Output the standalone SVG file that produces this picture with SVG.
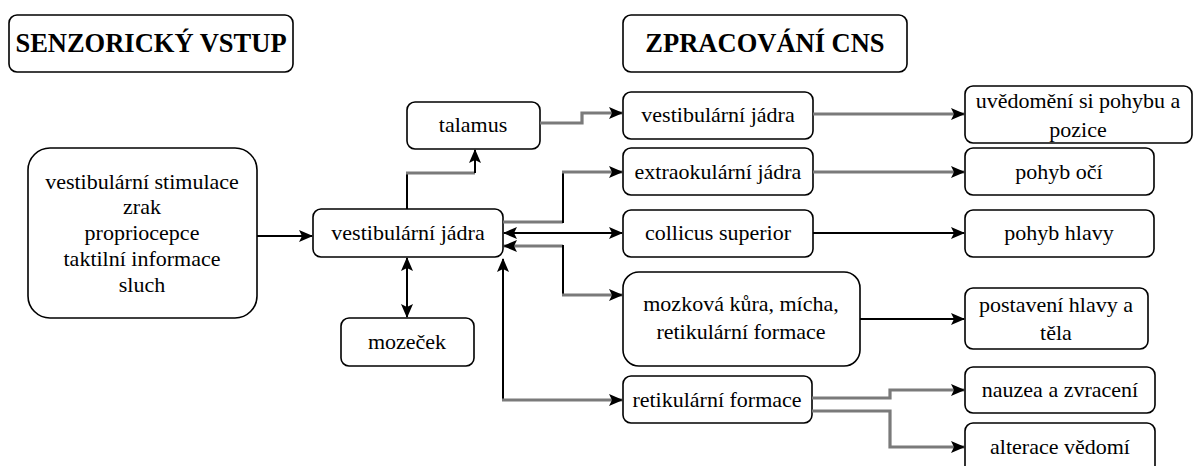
<svg xmlns="http://www.w3.org/2000/svg" width="1194" height="466" viewBox="0 0 1194 466">
<defs>
<style>
.box{fill:#fff;stroke:#000;stroke-width:1.6}
.t{font-family:"Liberation Serif","Times New Roman",serif;font-size:22px;fill:#000;text-anchor:middle}
.title{font-family:"Liberation Serif","Times New Roman",serif;font-size:26.5px;font-weight:bold;fill:#000;text-anchor:middle}
.k{fill:none;stroke:#000;stroke-width:2}
.g{fill:none;stroke:#7a7a7a;stroke-width:3.2}
</style>
<marker id="ah" markerUnits="userSpaceOnUse" markerWidth="14" markerHeight="12" refX="13" refY="6" orient="auto-start-reverse" viewBox="0 0 14 12">
<path d="M0,0 L14,6 L0,12 L3,6 z" fill="#000"/>
</marker>
</defs>
<g id="title-senzoricky">
<rect class="box" x="9" y="15" width="284" height="57" rx="8"/>
<text class="title" x="151" y="52">SENZORICKÝ VSTUP</text>
</g>
<g id="title-zpracovani">
<rect class="box" x="623" y="15" width="284" height="57" rx="8"/>
<text class="title" x="765" y="52">ZPRACOVÁNÍ CNS</text>
</g>
<g id="vstupy">
<rect class="box" x="28" y="148" width="229" height="170" rx="22"/>
<text class="t" x="142" y="189">vestibulární stimulace</text>
<text class="t" x="142" y="214">zrak</text>
<text class="t" x="142" y="240">propriocepce</text>
<text class="t" x="142" y="266">taktilní informace</text>
<text class="t" x="142" y="292">sluch</text>
</g>
<g id="vestib-jadra">
<rect class="box" x="313" y="209" width="190" height="48" rx="8"/>
<text class="t" x="408" y="240">vestibulární jádra</text>
</g>
<g id="mozecek">
<rect class="box" x="341" y="318" width="133" height="48" rx="8"/>
<text class="t" x="407" y="349">mozeček</text>
</g>
<g id="talamus">
<rect class="box" x="407" y="102" width="133" height="47" rx="8"/>
<text class="t" x="473" y="132">talamus</text>
</g>
<g id="vestib-jadra-2">
<rect class="box" x="623" y="92" width="190" height="47" rx="8"/>
<text class="t" x="718" y="122">vestibulární jádra</text>
</g>
<g id="extraokularni">
<rect class="box" x="623" y="148" width="190" height="47" rx="8"/>
<text class="t" x="718" y="179">extraokulární jádra</text>
</g>
<g id="collicus">
<rect class="box" x="623" y="210" width="190" height="47" rx="8"/>
<text class="t" x="718" y="240">collicus superior</text>
</g>
<g id="mozkova-kura">
<rect class="box" x="623" y="272" width="237" height="94" rx="16"/>
<text class="t" x="741" y="311">mozková kůra, mícha,</text>
<text class="t" x="741" y="339">retikulární formace</text>
</g>
<g id="retikularni">
<rect class="box" x="623" y="376" width="189" height="47" rx="8"/>
<text class="t" x="717" y="407">retikulární formace</text>
</g>
<g id="uvedomeni">
<rect class="box" x="965" y="86" width="227" height="57" rx="8"/>
<text class="t" x="1078" y="108">uvědomění si pohybu a</text>
<text class="t" x="1078" y="137">pozice</text>
</g>
<g id="pohyb-oci">
<rect class="box" x="965" y="148" width="189" height="47" rx="8"/>
<text class="t" x="1059" y="179">pohyb očí</text>
</g>
<g id="pohyb-hlavy">
<rect class="box" x="965" y="210" width="189" height="47" rx="8"/>
<text class="t" x="1059" y="240">pohyb hlavy</text>
</g>
<g id="postaveni">
<rect class="box" x="965" y="288" width="183" height="61" rx="8"/>
<text class="t" x="1056" y="312">postavení hlavy a</text>
<text class="t" x="1056" y="340">těla</text>
</g>
<g id="nauzea">
<rect class="box" x="965" y="367" width="190" height="46" rx="8"/>
<text class="t" x="1060" y="397">nauzea a zvracení</text>
</g>
<g id="alterace">
<rect class="box" x="965" y="423" width="190" height="56" rx="8"/>
<text class="t" x="1060" y="454">alterace vědomí</text>
</g>
<g id="connectors">
<path class="k" d="M257,236 H312" marker-end="url(#ah)"/>
<path class="k" d="M407,258 V317" marker-start="url(#ah)" marker-end="url(#ah)"/>
<path class="k" d="M407,209 V173"/>
<path class="g" d="M406,173 H475"/>
<path class="k" d="M475,173 V150" marker-end="url(#ah)"/>
<path class="g" d="M540,123 H582 V113 H622" marker-end="url(#ah)"/>
<path class="g" d="M813,114 H964" marker-end="url(#ah)"/>
<path class="g" d="M503,222 H563"/>
<path class="k" d="M563,223 V172"/>
<path class="g" d="M562,172 H622" marker-end="url(#ah)"/>
<path class="k" d="M504,233 H622" marker-start="url(#ah)" marker-end="url(#ah)"/>
<path class="g" d="M813,172 H964" marker-end="url(#ah)"/>
<path class="k" d="M813,233 H964" marker-end="url(#ah)"/>
<path class="g" d="M563,246 H504" marker-end="url(#ah)"/>
<path class="k" d="M563,245 V295"/>
<path class="g" d="M562,295 H622" marker-end="url(#ah)"/>
<path class="k" d="M503,400 V259" marker-end="url(#ah)"/>
<path class="g" d="M502,400 H622" marker-end="url(#ah)"/>
<path class="k" d="M860,319 H964" marker-end="url(#ah)"/>
<path class="g" d="M812,398 H890 V390 H964" marker-end="url(#ah)"/>
<path class="g" d="M812,411 H890 V447 H964" marker-end="url(#ah)"/>
</g>
</svg>
